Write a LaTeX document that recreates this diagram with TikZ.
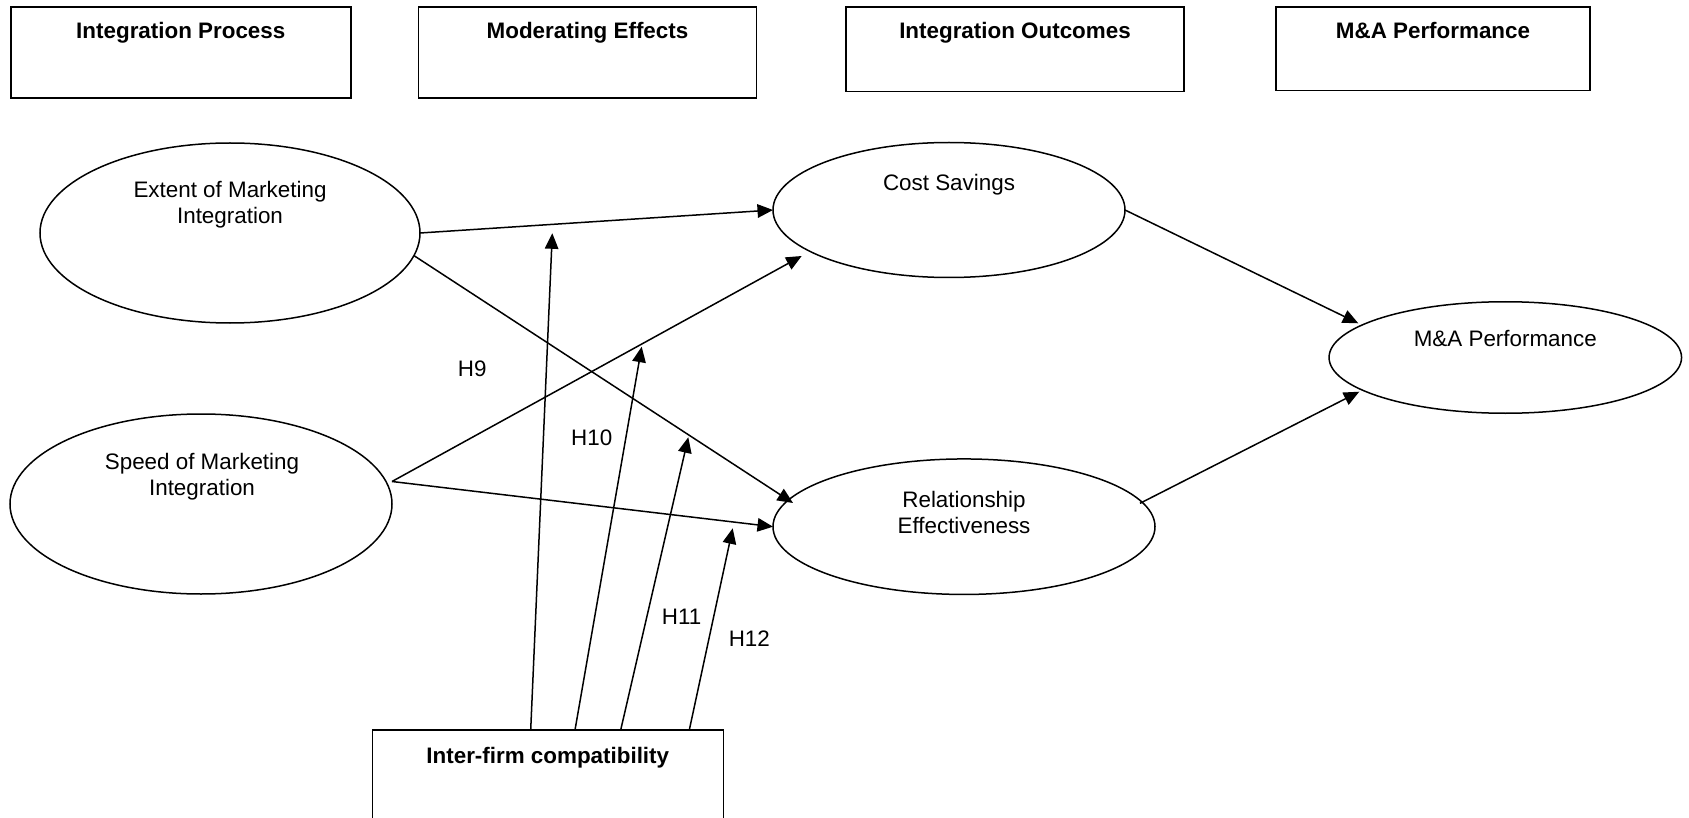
\documentclass[tikz,border=0pt]{standalone}
\usepackage{fontspec}
\setmainfont{Liberation Sans}
\usetikzlibrary{shapes.geometric,arrows.meta,calc}

\begin{document}
\begin{tikzpicture}[x=1pt,y=-1pt,
  every node/.style={font=\fontsize{22.4}{26}\selectfont, inner sep=0pt, outer sep=0pt},
  headbox/.style={draw, line width=1.6pt},
  headtext/.style={font=\fontsize{22.4}{26}\selectfont\bfseries, anchor=base},
  construct/.style={draw, ellipse, line width=1.5pt},
  ctext/.style={align=center},
  hyp/.style={anchor=base},
  link/.style={line width=1.5pt, -{Triangle[length=15.5pt,width=13.5pt]}},
]
\useasboundingbox (0,0) rectangle (1689,818);
\clip (0,0) rectangle (1689,818);

% column headings
\node[headbox, minimum width=340pt, minimum height=91pt, anchor=north west] (hproc) at (10.8,7) {};
\node[headbox, minimum width=338pt, minimum height=91pt, anchor=north west] (hmod) at (418.5,7) {};
\node[headbox, minimum width=338pt, minimum height=84.5pt, anchor=north west] (hout) at (846,7) {};
\node[headbox, minimum width=314pt, minimum height=83.5pt, anchor=north west] (hperf) at (1276,7) {};
\node[headtext] (hproct) at ($(hproc.north)+(0,32)$) {Integration Process};
\node[headtext] (hmodt) at ($(hmod.north)+(0,32)$) {Moderating Effects};
\node[headtext] (houtt) at ($(hout.north)+(0,32)$) {Integration Outcomes};
\node[headtext] (hperft) at ($(hperf.north)+(0,32)$) {M\&A Performance};

% constructs
\node[construct, minimum width=380pt, minimum height=180pt] (ext) at (230,233) {};
\node[construct, minimum width=382pt, minimum height=180pt] (spd) at (201,504) {};
\node[construct, minimum width=352pt, minimum height=135pt] (cost) at (949,210) {};
\node[construct, minimum width=382pt, minimum height=135.5pt] (rel) at (964,526.7) {};
\node[construct, minimum width=352.5pt, minimum height=111.5pt] (perf) at (1505.3,357.5) {};

\node[ctext, anchor=north] (extt) at (230,181) {Extent of Marketing\\Integration};
\node[ctext, anchor=north] (spdt) at (202,453) {Speed of Marketing\\Integration};
\node[hyp] (costt) at (949,191) {Cost Savings};
\node[ctext, anchor=north] (relt) at (964,491) {Relationship\\Effectiveness};
\node[hyp] (perft) at (1505.3,346) {M\&A Performance};

% moderator box
\node[headbox, minimum width=351pt, minimum height=130pt, anchor=north] (ifc) at (547.8,730) {};
\node[headtext] (ifct) at ($(ifc.north)+(0,33)$) {Inter-firm compatibility};

% direct effects
\coordinate (fork) at ($(spd)+(191,-22.5)$);
\draw[link] (ext.east) -- (cost.west);
\draw[link] (ext.-7) -- ($(rel)+(-171,-23.7)$);
\draw[link] (fork) -- ($(cost)+(-147.3,46)$);
\draw[link] (fork) -- (rel.west);
\draw[link] (cost.east) -- ($(perf)+(-147,-34.2)$);
\draw[link] ($(rel)+(176,-23.4)$) -- ($(perf)+(-146,34.2)$);

% moderating effects
\coordinate (m9) at (552.3,233.3);
\coordinate (m10) at (641.7,346.7);
\coordinate (m11) at (688.3,437.3);
\coordinate (m12) at (732.7,528.3);
\draw[link] ($(ifc.north west)+(158.4,0)$) -- (m9);
\draw[link] ($(ifc.north west)+(202.7,0)$) -- (m10);
\draw[link] ($(ifc.north west)+(248.4,0)$) -- (m11);
\draw[link] ($(ifc.north west)+(317,0)$) -- (m12);

% hypothesis labels
\node[hyp] (h9) at (472.3,376) {H9};
\node[hyp] (h10) at (591.7,445) {H10};
\node[hyp] (h11) at (681.7,624.5) {H11};
\node[hyp] (h12) at (749.3,646.7) {H12};
\end{tikzpicture}
\end{document}
